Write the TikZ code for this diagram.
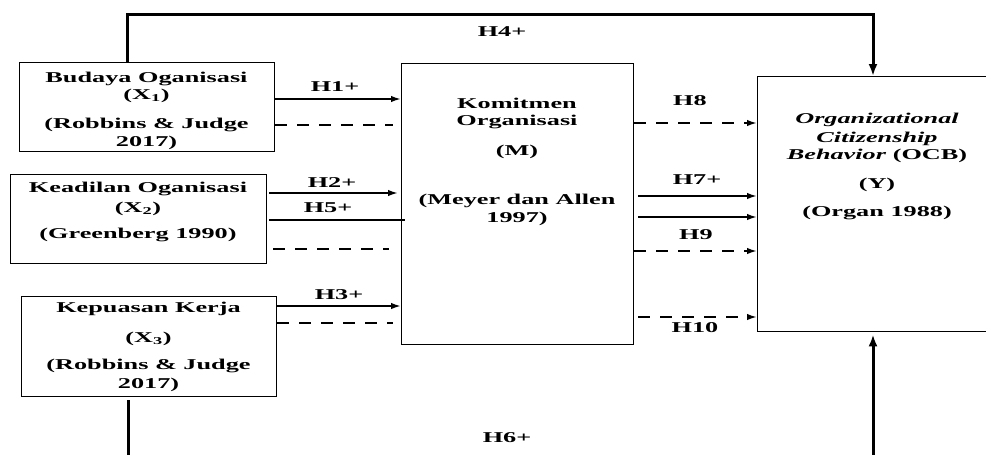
\documentclass[tikz,border=0pt]{standalone}
\usepackage{fontspec}
\setmainfont{Liberation Serif}[FakeStretch=1.75]
\usetikzlibrary{arrows.meta}
\begin{document}
\begin{tikzpicture}[x=1pt,y=-1pt,
  font=\fontsize{15}{17.5}\selectfont\bfseries,
  box/.style={draw, line width=1.4pt, inner sep=0pt, anchor=north west},
  txt/.style={align=center, inner sep=0pt, anchor=north},
  lbl/.style={inner sep=0pt},
  arr/.style={line width=1.8pt, -{Latex[length=10pt,width=6.5pt]}},
  plainline/.style={line width=1.8pt},
  dsh/.style={line width=1.8pt, dash pattern=on 12pt off 10pt},
  dsharr/.style={dsh, -{Latex[length=10pt,width=6.5pt]}},
  bigarr/.style={line width=3pt, -{Latex[length=12pt,width=9pt]}}]
\useasboundingbox (0,0) rectangle (986,455);
\clip (0,0) rectangle (986,455);
% boxes
\node[box, minimum width=255pt, minimum height=89pt] (x1) at (19,62) {};
\node[box, minimum width=256pt, minimum height=89pt] (x2) at (10,174) {};
\node[box, minimum width=255pt, minimum height=100pt] (x3) at (21,296) {};
\node[box, minimum width=232pt, minimum height=281pt] (m) at (401,63) {};
\node[box, minimum width=240pt, minimum height=255pt] (ocb) at (757,76) {};
% box texts
\node[txt] (t1) at (146.5,71.4) {Budaya Oganisasi\\(X\textsubscript{1})\\[11.5pt](Robbins \& Judge\\2017)};
\node[txt] (t2) at (138,181.4) {Keadilan Oganisasi\\[2.5pt](X\textsubscript{2})\\[8.5pt](Greenberg 1990)};
\node[txt] (t3) at (148.5,301.4) {Kepuasan Kerja\\[12.5pt](X\textsubscript{3})\\[9.5pt](Robbins \& Judge\\[1.5pt]2017)};
\node[txt] (tm) at (517,97.4) {Komitmen\\Organisasi\\[12.5pt](M)\\[31.5pt](Meyer dan Allen\\1997)};
\node[txt] (ty) at (877,112.4) {\textit{Organizational}\\[1.5pt]\textit{Citizenship}\\\textit{Behavior} (OCB)\\[11.5pt](Y)\\[10.5pt](Organ 1988)};
% labels
\node[lbl] (h1) at (335,87) {H1+};
\node[lbl] (h2) at (332,183) {H2+};
\node[lbl] (h5) at (328,208) {H5+};
\node[lbl] (h3) at (339,295) {H3+};
\node[lbl] (h4) at (502,32) {H4+};
\node[lbl] (h6) at (507,438) {H6+};
\node[lbl] (h8) at (690,101) {H8};
\node[lbl] (h7) at (697,180) {H7+};
\node[lbl] (h9) at (696,235) {H9};
\node[lbl] (h10) at (695,328) {H10};
% left connectors
\draw[arr] (x1.east |- 0,99) -- (m.west |- 0,99);
\draw[dsh] (x1.east |- 0,125) -- ([xshift=-8pt]m.west |- 0,125);
\draw[arr] ([xshift=2pt]x2.east |- 0,193) -- ([xshift=-3pt]m.west |- 0,193);
\draw[plainline] ([xshift=2pt]x2.east |- 0,220) -- ([xshift=4pt]m.west |- 0,220);
\draw[dsh] ([xshift=6pt]x2.east |- 0,249) -- ([xshift=-12pt]m.west |- 0,249);
\draw[arr] (x3.east |- 0,306) -- (m.west |- 0,306);
\draw[dsh] (x3.east |- 0,323) -- ([xshift=-8pt]m.west |- 0,323);
% right connectors
\draw[dsharr] (m.east |- 0,123) -- (ocb.west |- 0,123);
\draw[arr] ([xshift=4pt]m.east |- 0,196) -- (ocb.west |- 0,196);
\draw[arr] ([xshift=4pt]m.east |- 0,217) -- (ocb.west |- 0,217);
\draw[dsharr] (m.east |- 0,251) -- (ocb.west |- 0,251);
\draw[dsharr] ([xshift=4pt]m.east |- 0,317) -- (ocb.west |- 0,317);
% long connectors
\draw[bigarr] (x1.north -| 127,0) -- (127,14) -- (873,14) -- (ocb.north -| 873,0);
\draw[bigarr] ([yshift=-3pt]x3.south -| 128,0) -- (128,480) -- (873,480) -- ([yshift=-2pt]ocb.south -| 873,0);
\end{tikzpicture}
\end{document}
